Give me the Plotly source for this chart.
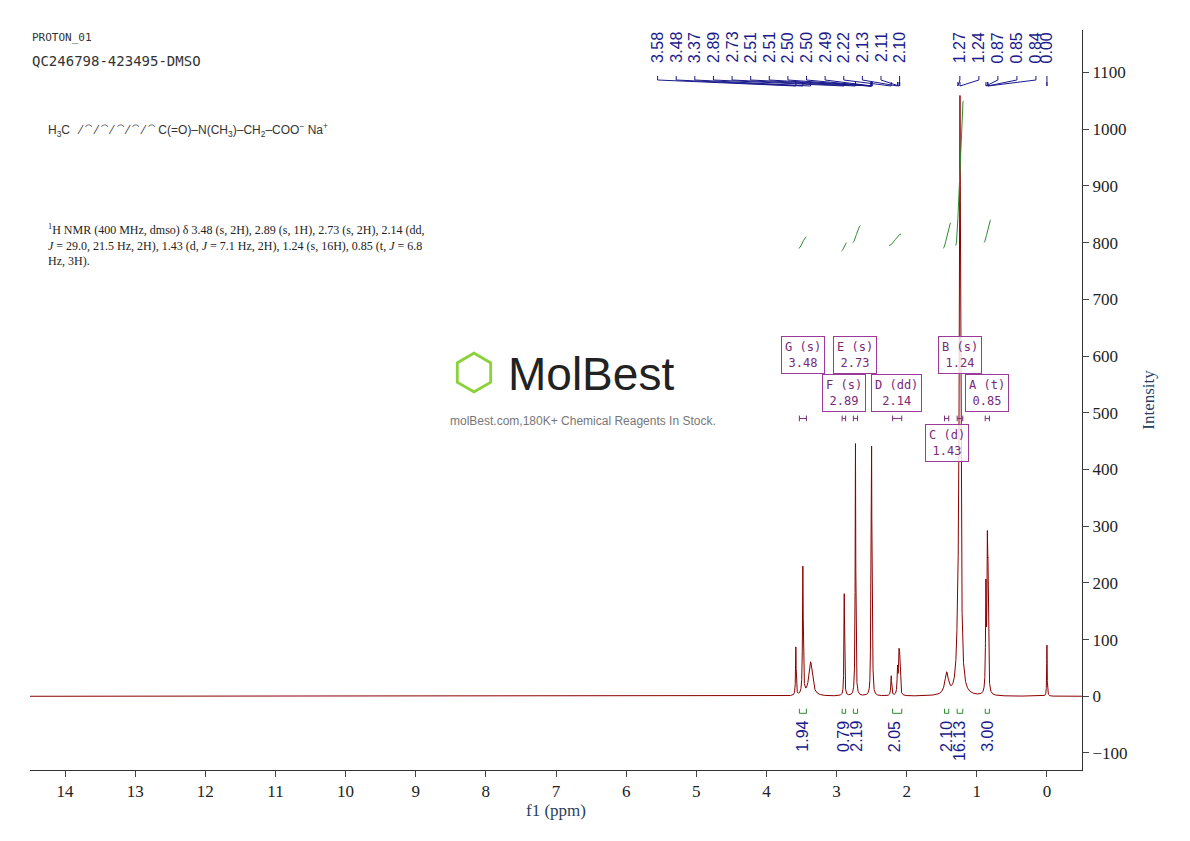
import numpy as np
import plotly.graph_objects as go

# peaks
peak_ppm = [3.58, 3.48, 3.37, 2.89, 2.73, 2.51, 2.50, 2.49, 2.22, 2.13, 2.11, 2.10, 1.43, 1.27, 1.24, 0.87, 0.85, 0.84, 0.00]
peak_h   = [85, 225, 60, 180, 445, 220, 380, 220, 35, 45, 60, 55, 38, 60, 1040, 180, 230, 170, 90]
peak_w   = [0.005, 0.006, 0.03, 0.005, 0.005, 0.004, 0.004, 0.004, 0.007, 0.007, 0.007, 0.007, 0.03, 0.02, 0.012, 0.006, 0.006, 0.006, 0.004]

label_vals = ["3.58","3.48","3.37","2.89","2.73","2.51","2.51","2.50","2.50","2.49","2.22","2.13","2.11","2.10"]
grp1_peaks = [3.58, 3.48, 3.37, 2.89, 2.73, 2.51, 2.51, 2.50, 2.50, 2.49, 2.22, 2.13, 2.11, 2.10]
label_vals2 = ["1.27","1.24","0.87","0.85","0.84","0.00"]
label_peak2 = [1.27, 1.24, 0.87, 0.85, 0.84, 0.00]

integ_x1 = [3.54, 2.93, 2.77, 2.25, 1.48, 1.30, 0.90]
integ_x2 = [3.43, 2.86, 2.66, 2.08, 1.37, 1.19, 0.80]
integ_y1 = [790, 785, 800, 795, 790, 795, 800]
integ_y2 = [810, 800, 830, 815, 835, 1050, 840]
integ_vals = ["1.94", "0.79", "2.19", "2.05", "2.10", "16.13", "3.00"]
integ_pos = [3.49, 2.90, 2.72, 2.17, 1.43, 1.24, 0.85]

box_labels = [("G (s)<br>3.48", 3.48, 0.561), ("E (s)<br>2.73", 2.73, 0.561),
              ("F (s)<br>2.89", 2.89, 0.509), ("D (dd)<br>2.14", 2.14, 0.509),
              ("B (s)<br>1.24", 1.24, 0.561), ("A (t)<br>0.85", 0.85, 0.509),
              ("C (d)<br>1.43", 1.43, 0.442)]
bracket_ppm = [(3.53, 3.43), (2.92, 2.87), (2.76, 2.70), (2.20, 2.07), (1.46, 1.40), (1.28, 1.20), (0.88, 0.82)]

x = np.linspace(14.5, -0.5, 30001)
y = np.zeros_like(x)
for p, h, w in zip(peak_ppm, peak_h, peak_w):
    y += h * w**2 / ((x - p)**2 + w**2)

SERIF = "Liberation Serif, Times New Roman, serif"
fig = go.Figure()
fig.add_trace(go.Scatter(x=x, y=y, mode="lines", line=dict(color="#8b0000", width=1), hoverinfo="skip"))
for a, b, c, d in zip(integ_x1, integ_x2, integ_y1, integ_y2):
    t = np.linspace(0, 1, 30)
    fig.add_trace(go.Scatter(x=a + (b - a) * t, y=c + (d - c) * (3*t**2 - 2*t**3),
                             mode="lines", line=dict(color="#2e8b2e", width=1), hoverinfo="skip"))

shapes = []
ann = []
px_per_ppm = (1047 - 66) / 14.0
def px2ppm(px):
    return (1047 - px) / px_per_ppm
def pix2paper(py):
    return (770 - py) / 740.0

LBL = dict(family="Liberation Sans, Arial", size=16, color="#1a1a8c")
for i, lab in enumerate(label_vals):
    lx = px2ppm(658 + i * 18.6)
    ann.append(dict(x=lx, y=pix2paper(30), xref="x", yref="paper", text=lab, textangle=-90,
                    showarrow=False, yanchor="top", font=LBL))
    shapes.append(dict(type="path", xref="x", yref="paper",
                       path=f"M {lx},{pix2paper(76)} L {lx},{pix2paper(80)} L {grp1_peaks[i]},{pix2paper(86)} L {grp1_peaks[i]},{pix2paper(82)}",
                       line=dict(color="#1a1a8c", width=1)))
for i, lab in enumerate(label_vals2):
    lx = px2ppm(960 + i * 19) if i < 5 else 0.0
    ann.append(dict(x=lx, y=pix2paper(30), xref="x", yref="paper", text=lab, textangle=-90,
                    showarrow=False, yanchor="top", font=LBL))
    shapes.append(dict(type="path", xref="x", yref="paper",
                       path=f"M {lx},{pix2paper(76)} L {lx},{pix2paper(80)} L {label_peak2[i]},{pix2paper(86)} L {label_peak2[i]},{pix2paper(82)}",
                       line=dict(color="#1a1a8c", width=1)))

for (a, b), v, p in zip(bracket_ppm, integ_vals, integ_pos):
    shapes.append(dict(type="path", xref="x", yref="y",
                       path=f"M {a},-22 L {a},-30 L {b},-30 L {b},-22", line=dict(color="#2e8b2e", width=1)))
    ann.append(dict(x=p, y=-40, xref="x", yref="y", text=v, textangle=-90, showarrow=False, yanchor="top", font=LBL))

for text, p, yy in box_labels:
    ann.append(dict(x=p, y=yy, xref="x", yref="paper", text=text, showarrow=False,
                    bordercolor="#9b3a9b", borderwidth=1, borderpad=3, bgcolor="rgba(255,255,255,0.8)",
                    font=dict(family="DejaVu Sans Mono", size=12, color="#7a2a7a")))
for (a, b) in bracket_ppm:
    shapes.append(dict(type="path", xref="x", yref="y",
                       path=f"M {a},495 L {a},485 M {a},490 L {b},490 M {b},495 L {b},485",
                       line=dict(color="#7a2a7a", width=1)))

def pa(px, py, text, size, color="#333", family=SERIF):
    ann.append(dict(x=(px - 30) / 1052, y=pix2paper(py), xref="paper", yref="paper", text=text, showarrow=False,
                    xanchor="left", yanchor="middle", align="left", font=dict(family=family, size=size, color=color)))
pa(30, 37, "PROTON_01", 11, family="DejaVu Sans Mono")
pa(30, 61, "QC246798-423495-DMSO", 14, family="DejaVu Sans Mono")
pa(46, 130, "H<sub>3</sub>C   ⁄ ⁀ ⁄ ⁀ ⁄ ⁀ ⁄ ⁀ ⁄ ⁀ C(=O)–N(CH<sub>3</sub>)–CH<sub>2</sub>–COO<sup>−</sup> Na<sup>+</sup>", 12, family="Liberation Sans")
pa(46, 245, "<sup>1</sup>H NMR (400 MHz, dmso) δ 3.48 (s, 2H), 2.89 (s, 1H), 2.73 (s, 2H), 2.14 (dd,<br><i>J</i> = 29.0, 21.5 Hz, 2H), 1.43 (d, <i>J</i> = 7.1 Hz, 2H), 1.24 (s, 16H), 0.85 (t, <i>J</i> = 6.8<br>Hz, 3H).", 12, color="#222")
pa(450, 372, "⬡", 50, color="#8bd23a", family="DejaVu Sans")
pa(506, 374, "MolBest", 46, color="#222", family="Liberation Sans Narrow, Liberation Sans")
pa(448, 421, "molBest.com,180K+ Chemical Reagents In Stock.", 12, color="#777", family="Liberation Sans")

fig.update_layout(
    width=1190, height=841, showlegend=False, plot_bgcolor="white", paper_bgcolor="white",
    margin=dict(l=22, r=116, t=22, b=79),
    xaxis=dict(range=[14.5, -0.5], tickvals=list(range(0, 15)), ticks="outside", ticklen=6,
               showgrid=False, zeroline=False, showline=True, linecolor="#333",
               title=dict(text="f1 (ppm)", font=dict(family=SERIF, size=17), standoff=2),
               tickfont=dict(family=SERIF, size=17, color="#222")),
    yaxis=dict(range=[-130, 1175], side="right", tickvals=list(range(-100, 1101, 100)), ticks="outside", ticklen=6,
               showgrid=False, zeroline=False, showline=True, linecolor="#333",
               title=dict(text="Intensity", font=dict(family=SERIF, size=17)),
               tickfont=dict(family=SERIF, size=17, color="#222")),
    shapes=shapes, annotations=ann,
)
fig.write_html("out.html")
